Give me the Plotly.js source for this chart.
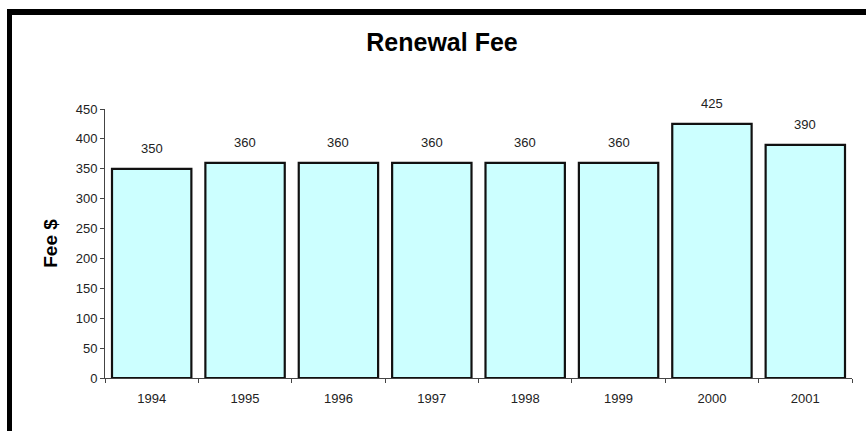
<!DOCTYPE html>
<html>
<head>
<meta charset="utf-8">
<script src="https://cdn.plot.ly/plotly-3.0.1.min.js"></script>
<style>
  body { margin: 0; background: #fff; }
  #wrap { position: relative; width: 866px; height: 431px; overflow: hidden; }
  #chart { position: absolute; left: 0; top: 0; width: 866px; height: 431px; }
  #frame {
    position: absolute; left: 7px; top: 9px; width: 900px; height: 460px;
    border-left: 5px solid #000; border-top: 6px solid #000;
    pointer-events: none;
  }
</style>
</head>
<body>
<div id="wrap">
  <div id="chart"></div>
  <div id="frame"></div>
</div>
<script>
// datos del grafico
const years = ["1994", "1995", "1996", "1997", "1998", "1999", "2000", "2001"];
const fees = [350, 360, 360, 360, 360, 360, 425, 390];
const yTicks = [0, 50, 100, 150, 200, 250, 300, 350, 400, 450];

const font = "Liberation Sans, Arial, sans-serif";

var bars = {
  x: years,
  y: fees,
  type: 'bar',
  marker: { color: '#CCFFFF', line: { color: '#111', width: 2.2 } },
  hoverinfo: 'x+y'
};

// etiquetas encima de cada barra (x como indice de categoria)
var labels = years.map((yr, i) => ({
  x: i,
  y: fees[i],
  xref: 'x',
  yref: 'y',
  text: String(fees[i]),
  showarrow: false,
  yanchor: 'bottom',
  yshift: 11,
  font: { family: font, size: 13, color: '#222' }
}));

var layout = {
  width: 866,
  height: 431,
  margin: { l: 105, r: 14, t: 109, b: 53 },
  paper_bgcolor: '#fff',
  plot_bgcolor: '#fff',
  bargap: 0.15,
  showlegend: false,
  title: {
    text: '<b>Renewal Fee</b>',
    font: { family: font, size: 25, color: '#000' },
    x: 442 / 866,
    xanchor: 'center',
    y: 1 - 42 / 431,
    yanchor: 'middle'
  },
  xaxis: {
    type: 'category',
    range: [-0.5, years.length - 0.5],
    showline: true,
    linecolor: '#444',
    linewidth: 1,
    ticks: 'outside',
    tickson: 'boundaries',
    ticklen: 4,
    tickcolor: '#444',
    ticklabelstandoff: 8,
    tickangle: 0,
    showgrid: false,
    tickfont: { family: font, size: 13, color: '#222' }
  },
  yaxis: {
    range: [0, 450],
    tickvals: yTicks,
    showline: true,
    linecolor: '#444',
    linewidth: 1,
    ticks: 'outside',
    ticklen: 4,
    tickcolor: '#444',
    showgrid: false,
    zeroline: false,
    tickfont: { family: font, size: 13, color: '#222' },
    title: {
      text: '<b>Fee $</b>',
      font: { family: font, size: 19, color: '#000' },
      standoff: 13
    }
  },
  annotations: labels
};

Plotly.newPlot('chart', [bars], layout, { displayModeBar: false, staticPlot: true });
</script>
</body>
</html>
